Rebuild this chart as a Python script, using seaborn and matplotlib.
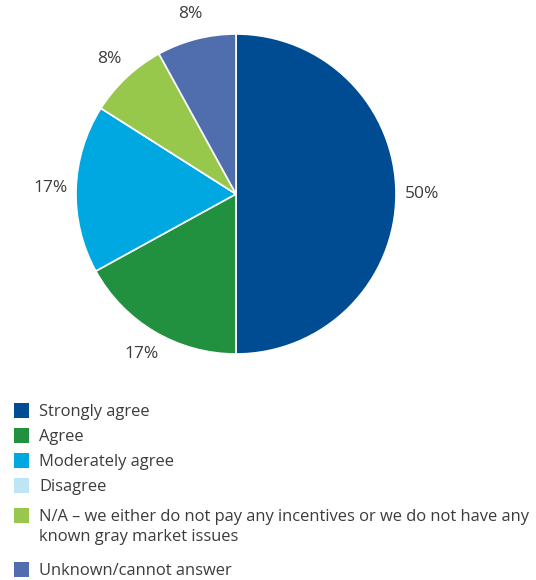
import matplotlib
matplotlib.use("Agg")
import matplotlib.pyplot as plt
import seaborn as sns
from matplotlib.patches import Rectangle

# Survey responses (share of respondents, %)
categories = [
    "Strongly agree",
    "Agree",
    "Moderately agree",
    "Disagree",
    "N/A \u2013 we either do not pay any incentives or we do not have any\nknown gray market issues",
    "Unknown/cannot answer",
]
shares = [50, 17, 17, 0, 8, 8]
colors = ["#004C93", "#22913F", "#00A8E1", "#BEE5F6", "#97C84B", "#506DAE"]

sns.set_theme(style="white")
plt.rcParams["font.family"] = ["Open Sans", "DejaVu Sans"]
TEXT = "#3c3c3c"

W, H = 536, 580
fig = plt.figure(figsize=(W / 100, H / 100), dpi=100)

cx, cy, r = 236, 194, 160
ax = fig.add_axes([(cx - r) / W, 1 - (cy + r) / H, 2 * r / W, 2 * r / H])

ax.pie(
    shares,
    colors=colors,
    startangle=90,
    counterclock=False,
    autopct=lambda p: f"{p:.0f}%" if p > 0.5 else "",
    pctdistance=1.16,
    wedgeprops=dict(edgecolor="white", linewidth=1.2),
    textprops=dict(fontsize=12.5, color=TEXT),
)
ax.set_xlim(-1, 1)
ax.set_ylim(-1, 1)
ax.set_aspect("equal")
ax.axis("off")

# Legend: colour swatch + label, rows laid out in pixel units
row_centers = [410, 435, 460, 485, 515, 569]
sw = 15
line_pitch = 20
for yc, label, col in zip(row_centers, categories, colors):
    fig.add_artist(Rectangle((14 / W, 1 - (yc + sw / 2) / H), sw / W, sw / H,
                             transform=fig.transFigure, facecolor=col,
                             edgecolor="none"))
    for i, line in enumerate(label.split("\n")):
        base = yc + 6 + i * line_pitch
        fig.text(39 / W, 1 - base / H, line, fontsize=11.9, color=TEXT,
                 ha="left", va="baseline")

fig.savefig("out.png", dpi=100, facecolor="white")
